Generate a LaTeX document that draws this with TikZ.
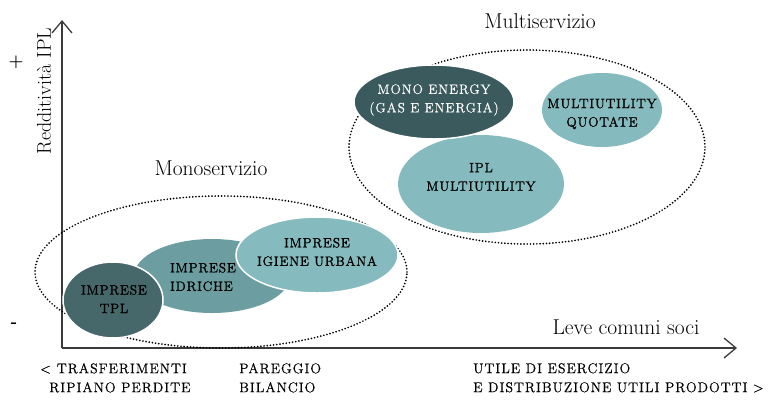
\documentclass[tikz,border=0pt]{standalone}
\usepackage{fontspec}
\setmainfont{Latin Modern Roman}
\newfontfamily\capsfont[LetterSpace=7,FakeBold=0.6]{Latin Modern Roman}
\newfontfamily\capsboldfont[LetterSpace=6,FakeBold=1.4]{Latin Modern Roman}
\newfontfamily\capslightfont[LetterSpace=7,FakeBold=0.5]{Latin Modern Roman}
\usetikzlibrary{shapes.geometric,arrows.meta}
\definecolor{tealdeep}{HTML}{3B5A5D}
\definecolor{tealdark}{HTML}{47686A}
\definecolor{tealmid}{HTML}{6C9EA1}
\definecolor{teallight}{HTML}{85BBBE}
\definecolor{axisgray}{HTML}{3A3A3A}
\begin{document}
\begin{tikzpicture}[x=1pt,y=-1pt,
  axisline/.style={draw=axisgray,line width=1.3pt,-{Straight Barb[length=12pt,width=20pt,line width=1.3pt]}},
  groupring/.style={ellipse,draw=black,line width=1.9pt,line cap=round,dash pattern=on 0pt off 3.2pt,inner sep=0pt},
  blob/.style={ellipse,inner sep=0pt,draw=white,line width=1.5pt},
  blobtext/.style={align=center,font=\capsboldfont\fontsize{13.5}{18.5}\selectfont,inner sep=0pt},
  axistitle/.style={font=\fontsize{21.5}{24}\selectfont,inner sep=0pt},
  scaletext/.style={align=left,font=\capsfont\fontsize{14}{19}\selectfont,inner sep=0pt,anchor=north west}
]
\useasboundingbox (0,0) rectangle (780,400);

% axes
\coordinate (origin) at (62,348);
\coordinate (ytop) at (62,20);
\coordinate (xend) at (737,348);
\draw[axisline] (origin) -- (ytop);
\draw[axisline] (origin) -- (xend);

\node[axistitle,font=\fontsize{20}{24}\selectfont,rotate=90] (ytitle) at (44,91) {Redditività IPL};
\node[axistitle] (xtitle) at (626,327) {Leve comuni soci};
\node[font=\fontsize{17}{20}\selectfont\bfseries,inner sep=0pt] (plus) at (16,62) {+};
\node[font=\fontsize{17}{20}\selectfont\bfseries,inner sep=0pt] (minus) at (14,325) {-};

% group rings and titles
\node[groupring,minimum width=372pt,minimum height=152pt] (monoring) at (221,272) {};
\node[groupring,minimum width=356pt,minimum height=194pt] (multiring) at (527,147) {};
\node[axistitle] (monotitle) at (211,168) {Monoservizio};
\node[axistitle] (multititle) at (540,21) {Multiservizio};

% single-service companies
\node[blob,fill=tealmid,draw=none,minimum width=156pt,minimum height=74pt] (idriche) at (212,276) {};
\node[blob,fill=teallight,minimum width=162pt,minimum height=76pt] (igiene) at (317,255) {};
\node[blob,fill=tealdark,minimum width=100pt,minimum height=76pt] (tpl) at (113,300) {};

% multi-service companies
\node[blob,fill=teallight,draw=none,minimum width=166pt,minimum height=98pt] (iplmulti) at (481,184) {};
\node[blob,fill=tealdeep,minimum width=160pt,minimum height=74pt] (monoenergy) at (434,102) {};
\node[blob,fill=teallight,draw=none,minimum width=120pt,minimum height=74pt] (quotate) at (602,110) {};

% labels inside the blobs
\node[blobtext] (tpltext) at (114,299) {IMPRESE\\TPL};
\node[blobtext,align=left] (idrichetext) at (203,277) {IMPRESE\\IDRICHE};
\node[blobtext] (igienetext) at (317,252) {IMPRESE\\IGIENE URBANA};
\node[blobtext,text=white,font=\capslightfont\fontsize{13.5}{18.5}\selectfont] (monoenergytext) at (434,100) {MONO ENERGY\\(GAS E ENERGIA)};
\node[blobtext] (quotatetext) at (602,114) {MULTIUTILITY\\QUOTATE};
\node[blobtext] (iplmultitext) at (481,177) {IPL\\MULTIUTILITY};

% scale of outcomes under the horizontal axis
\node[scaletext] (leftscale) at (40,363) {<\hspace{6pt}TRASFERIMENTI\\\hspace*{9pt}RIPIANO PERDITE};
\node[scaletext] (midscale) at (239,363) {PAREGGIO\\BILANCIO};
\node[scaletext] (rightscale) at (473,363) {UTILE DI ESERCIZIO\\E DISTRIBUZIONE UTILI PRODOTTI >};
\end{tikzpicture}
\end{document}
